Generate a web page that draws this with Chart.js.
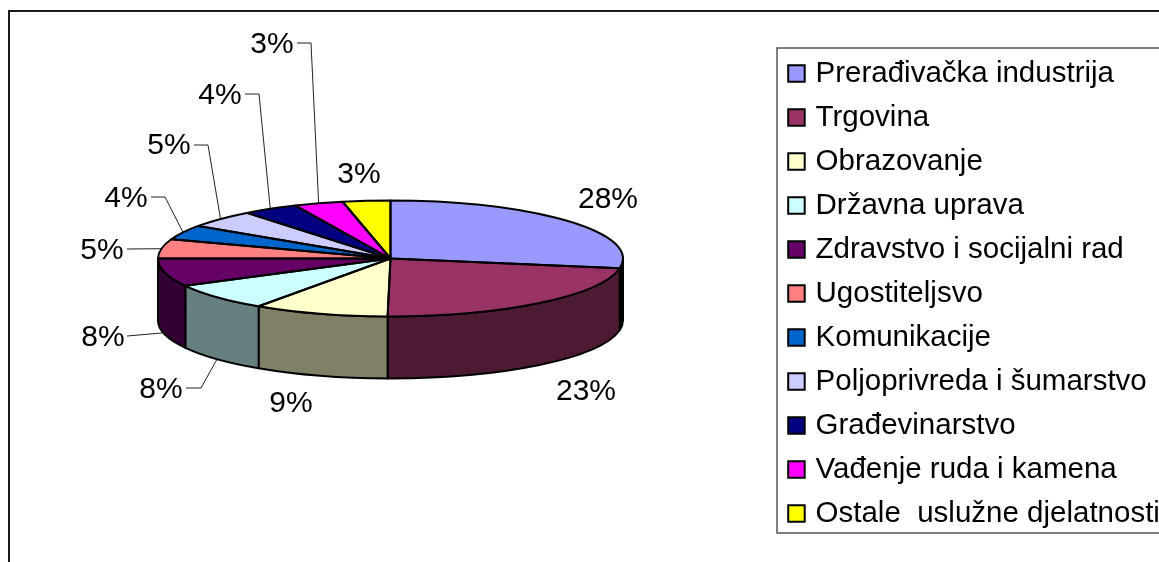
<!DOCTYPE html>
<html>
<head>
<meta charset="utf-8">
<script src="https://cdn.jsdelivr.net/npm/chart.js@4"></script>
<style>
  html, body { margin: 0; padding: 0; background: #fff; overflow: hidden; }
  #wrap { width: 1159px; height: 562px; }
</style>
</head>
<body>
<div id="wrap"><canvas id="sectorPie" width="1159" height="562"></canvas></div>
<script>
const categories = ['Prerađivačka industrija', 'Trgovina', 'Obrazovanje', 'Državna uprava',
  'Zdravstvo i socijalni rad', 'Ugostiteljsvo', 'Komunikacije', 'Poljoprivreda i šumarstvo',
  'Građevinarstvo', 'Vađenje ruda i kamena', 'Ostale  uslužne djelatnosti'];
const shares = [27.7, 22.5, 9.4, 7.6, 7.8, 5.4, 4.1, 4.9, 3.9, 3.4, 3.3];
const sliceColors = ['#9999ff', '#993366', '#ffffcc', '#ccffff', '#660066', '#ff8080',
  '#0066cc', '#ccccff', '#000080', '#ff00ff', '#ffff00'];
const sideColors = ['#000000', '#4d1a33', '#808066', '#668080', '#330033', '#804040',
  '#003366', '#666680', '#000040', '#800080', '#808000'];

// where the squashed pie sits on the page
const pie = { x: 390.5, y: 258.5, rx: 232.5, ry: 58, depth: 62 };

// label centre for each slice, and the elbow of its leader line (no from = no leader)
const labelSpots = [
  { x: 608, y: 198 }, { x: 586, y: 390 }, { x: 291, y: 402 },
  { x: 161, y: 388, elbow: [201, 388], from: 186, wall: 1 },
  { x: 103, y: 336, from: 127, wall: 0.97 },
  { x: 102, y: 249, from: 127 },
  { x: 126, y: 197, elbow: [165, 197], from: 151 },
  { x: 169, y: 144, lineY: 145, elbow: [208, 145], from: 194 },
  { x: 220, y: 94, elbow: [259, 94], from: 245 },
  { x: 272, y: 43, elbow: [311, 43], from: 297 },
  { x: 359, y: 173 }
];

const tiltPlugin = {
  id: 'tilt',
  beforeDraw(chart) {
    // the legend box is placed by hand, clear of the page frame
    const legend = chart.legend;
    const w = legend.width, h = legend.height;
    legend.left = 777.6; legend.right = 777.6 + w;
    legend.top = 44.35; legend.bottom = 44.35 + h;
    const ctx = chart.ctx;
    ctx.save();
    ctx.strokeStyle = '#1a1a1a';
    ctx.lineWidth = 2;
    ctx.beginPath();
    ctx.moveTo(9, 562); ctx.lineTo(9, 11); ctx.lineTo(1159, 11);
    ctx.stroke();
    ctx.strokeStyle = '#555';
    ctx.lineWidth = 1.5;
    ctx.beginPath();
    ctx.moveTo(1159, 48); ctx.lineTo(777, 48); ctx.lineTo(777, 533); ctx.lineTo(1159, 533);
    ctx.stroke();
    ctx.restore();
  },
  beforeDatasetsDraw(chart) {
    const ctx = chart.ctx;
    const arcs = chart.getDatasetMeta(0).data;
    ctx.save();
    // leaders go first so the pie covers their ends
    arcs.forEach((arc, i) => {
      const spot = labelSpots[i];
      if (spot.from === undefined) return;
      const mid = (arc.startAngle + arc.endAngle) / 2;
      const endX = pie.x + pie.rx * Math.cos(mid);
      const endY = pie.y + pie.ry * Math.sin(mid) + (spot.wall || 0) * pie.depth;
      ctx.beginPath();
      ctx.lineWidth = 1;
      ctx.strokeStyle = '#222';
      ctx.moveTo(spot.from, spot.lineY || spot.y);
      if (spot.elbow) ctx.lineTo(spot.elbow[0], spot.elbow[1]);
      ctx.lineTo(endX, endY);
      ctx.stroke();
    });
    ctx.lineWidth = 2;
    ctx.strokeStyle = '#000';
    ctx.lineJoin = 'round';
    arcs.forEach((arc, i) => {
      const a0 = Math.max(arc.startAngle, 0), a1 = Math.min(arc.endAngle, Math.PI);
      if (a1 <= a0) return;
      ctx.beginPath();
      ctx.ellipse(pie.x, pie.y, pie.rx, pie.ry, 0, a0, a1);
      ctx.ellipse(pie.x, pie.y + pie.depth, pie.rx, pie.ry, 0, a1, a0, true);
      ctx.closePath();
      ctx.fillStyle = sideColors[i];
      ctx.fill();
      ctx.stroke();
    });
    ctx.restore();
    // squash the library's arcs into the top face
    const first = arcs[0];
    ctx.save();
    ctx.translate(pie.x, pie.y);
    ctx.scale(1, pie.ry / pie.rx);
    ctx.translate(-first.x, -first.y);
  },
  afterDatasetsDraw(chart) {
    const ctx = chart.ctx;
    ctx.restore();
    const arcs = chart.getDatasetMeta(0).data;
    ctx.save();
    ctx.lineWidth = 2;
    ctx.strokeStyle = '#000';
    ctx.lineJoin = 'round';
    arcs.forEach(arc => {
      ctx.beginPath();
      ctx.moveTo(pie.x, pie.y);
      ctx.ellipse(pie.x, pie.y, pie.rx, pie.ry, 0, arc.startAngle, arc.endAngle);
      ctx.closePath();
      ctx.stroke();
    });
    // percent labels
    ctx.font = '30px "Liberation Sans", Arial, sans-serif';
    ctx.textAlign = 'center';
    ctx.textBaseline = 'middle';
    ctx.fillStyle = '#000';
    arcs.forEach((arc, i) => {
      ctx.fillText(Math.round(shares[i]) + '%', labelSpots[i].x, labelSpots[i].y + 1.5);
    });
    ctx.restore();
  }
};

new Chart(document.getElementById('sectorPie'), {
  type: 'pie',
  data: {
    labels: categories,
    datasets: [{
      data: shares,
      backgroundColor: sliceColors,
      borderWidth: 0,
      radius: pie.rx
    }]
  },
  options: {
    responsive: false,
    animation: false,
    events: [],
    radius: pie.rx,
    plugins: {
      tooltip: { enabled: false },
      legend: {
        position: 'right',
        align: 'start',
        labels: {
          color: '#000',
          font: { family: '"Liberation Sans", Arial, sans-serif', size: 29.5 },
          padding: 14.5,
          usePointStyle: true,
          pointStyle: 'rect',
          boxWidth: 8.7,
          boxHeight: 16.5,
          generateLabels(chart) {
            return Chart.overrides.doughnut.plugins.legend.labels.generateLabels(chart)
              .map(item => ({ ...item, lineWidth: 2, strokeStyle: '#000' }));
          }
        }
      }
    }
  },
  plugins: [tiltPlugin]
});
</script>
</body>
</html>
